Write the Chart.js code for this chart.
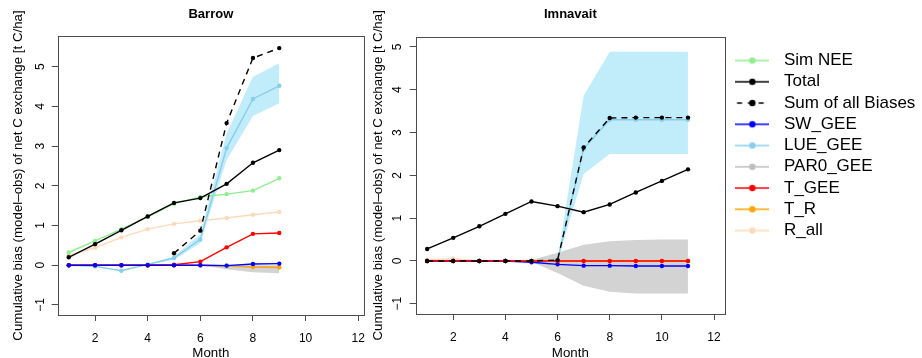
<!DOCTYPE html>
<html><head><meta charset="utf-8">
<script src="https://cdn.jsdelivr.net/npm/chart.js@4.4.0/dist/chart.umd.min.js"></script>
<style>
html,body{margin:0;padding:0;background:#fff;overflow:hidden;width:922px;height:358px;}
canvas{position:absolute;top:0;}
#c1{left:0;z-index:1;}
#c2{left:366px;z-index:2;}
</style></head><body>
<canvas id="c1" width="380" height="358"></canvas>
<canvas id="c2" width="556" height="358"></canvas>
<script>
// ---------- data ----------
const months_barrow = [1,2,3,4,5,6,7,8,9];
const months_imnavait = [1,2,3,4,5,6,7,8,9,10,11];
const x_ticks = [2,4,6,8,10,12];
const y_ticks = [-1,0,1,2,3,4,5];
const legend_labels = ['Sim NEE','Total','Sum of all Biases','SW_GEE','LUE_GEE','PAR0_GEE','T_GEE','T_R','R_all'];
const y_title = 'Cumulative bias (model\u2013obs) of net C exchange [t C/ha]';
const x_title = 'Month';

const barrow_sim_nee    = [0.32,0.61,0.91,1.22,1.55,1.72,1.79,1.88,2.19];
const barrow_total      = [0.20,0.53,0.88,1.23,1.57,1.69,2.05,2.58,2.90];
const barrow_sum_biases = [null,null,null,null,0.30,0.87,3.58,5.22,5.47];
const barrow_sw_gee     = [0,0,0,0,0,0,-0.01,0.03,0.04];
const barrow_lue_gee    = [0,-0.03,-0.14,0.02,0.18,0.65,2.95,4.19,4.52];
const barrow_lue_lo     = [0,-0.04,-0.15,0.01,0.14,0.55,2.65,3.76,4.08];
const barrow_lue_hi     = [0,-0.02,-0.13,0.03,0.22,0.78,3.32,4.75,5.09];
const barrow_par0_gee   = [0,0,0,0,0,0,-0.03,-0.05,-0.06];
const barrow_par0_lo    = [0,0,0,0,0,0,-0.10,-0.18,-0.20];
const barrow_par0_hi    = [0,0,0,0,0,0,0,0,0];
const barrow_t_gee      = [0,0,0,0,0.01,0.09,0.45,0.79,0.81];
const barrow_t_r        = [0,0,0,0,0,0,-0.01,-0.04,-0.05];
const barrow_r_all      = [0.25,0.44,0.70,0.91,1.04,1.12,1.19,1.27,1.34];

const imn_total      = [0.28,0.54,0.81,1.10,1.39,1.28,1.14,1.32,1.60,1.87,2.14];
const imn_sum_biases = [0,0,0,0,0,0.02,2.65,3.34,3.35,3.35,3.35];
const imn_sw_gee     = [0,0,0,0,-0.03,-0.08,-0.11,-0.11,-0.12,-0.12,-0.12];
const imn_lue_gee    = [0,0,0,0,0,0.01,2.62,3.30,3.30,3.30,3.30];
const imn_lue_lo     = [0,0,0,0,0,-0.01,2.03,2.50,2.50,2.50,2.50];
const imn_lue_hi     = [0,0,0,0,0,0.04,3.86,4.89,4.89,4.89,4.89];
const imn_par0_gee   = [0,0,0,0,0,0,0,0,0,0,0];
const imn_par0_lo    = [0,0,0,0,-0.02,-0.28,-0.58,-0.72,-0.76,-0.76,-0.76];
const imn_par0_hi    = [0,0,0,0,0.02,0.19,0.38,0.46,0.49,0.50,0.50];
const imn_t_gee      = [0,0,0,0,0,0,0,0,0,0,0];
const imn_t_r        = [0,0,0,0,0,0,0,0,0,0,0];
const imn_r_all      = [0.03,0.05,0,0,0,0,0,0,0,0,0];

// ---------- styles ----------
const COL = {sim:'#90EE90', total:'#000000', sum:'#000000', sw:'#0000FF', lue:'#87CEEB', par0:'#BEBEBE', tgee:'#FF0000', tr:'#FFA500', rall:'#FFDAB9'};
const legend_colors = [COL.sim, COL.total, COL.sum, COL.sw, COL.lue, COL.par0, COL.tgee, COL.tr, COL.rall];
const LUE_BAND = '#C1ECFA';
const PAR0_BAND = '#D3D3D3';
const AXIS = '#4d4d4d';
Chart.defaults.font.family = "'Liberation Sans', Arial, Helvetica, sans-serif";
Chart.defaults.color = '#000';

function pts(xs, ys){ return xs.map((x,i)=>({x:x, y:ys[i]})); }
function lineDs(label, xs, ys, color, order, dashed){
  return {label:label, data:pts(xs,ys), borderColor:color, backgroundColor:color,
    borderWidth:1.4, pointRadius:2.2, pointBorderWidth:0, pointBackgroundColor:color,
    pointHoverRadius:0, fill:false, tension:0, order:order, borderDash: dashed?[6,5]:[], spanGaps:false};
}
function bandDs(label, xs, lo, hi, color){
  return [
    {label:label+' lo', data:pts(xs,lo), borderWidth:0, borderColor:'rgba(0,0,0,0)', pointRadius:0, fill:false, order:50},
    {label:label+' hi', data:pts(xs,hi), borderWidth:0, borderColor:'rgba(0,0,0,0)', pointRadius:0, fill:'-1', backgroundColor:color, order:50}
  ];
}
function makeSample(color, dashed){
  const c = document.createElement('canvas'); c.width = 34; c.height = 10;
  const g = c.getContext('2d');
  g.strokeStyle = color; g.lineWidth = 1.6;
  if (dashed){ g.setLineDash([5,5.8]); g.lineDashOffset = -1.7; }
  g.beginPath(); g.moveTo(0,5); g.lineTo(34,5); g.stroke();
  g.setLineDash([]);
  g.fillStyle = color; g.beginPath(); g.arc(17,5,3.2,0,Math.PI*2); g.fill();
  return c;
}
const samples = legend_colors.map((c,i)=>makeSample(c, i===2));

const framePlugin = {id:'frame', afterDatasetsDraw(chart){
  const a = chart.chartArea, ctx = chart.ctx;
  ctx.save(); ctx.strokeStyle = AXIS; ctx.lineWidth = 1;
  ctx.strokeRect(Math.round(a.left)+0.5, Math.round(a.top)+0.5, Math.round(a.right-a.left), Math.round(a.bottom-a.top));
  ctx.restore();
}};
const yTitlePlugin = {id:'ytitle', afterDraw(chart){
  const o = chart.options.plugins.ytitle; const a = chart.chartArea, ctx = chart.ctx;
  ctx.save(); ctx.translate(o.x, (a.top+a.bottom)/2); ctx.rotate(-Math.PI/2);
  ctx.font = "13.3px 'Liberation Sans', Arial, sans-serif"; ctx.fillStyle = '#000';
  ctx.textAlign = 'center'; ctx.textBaseline = 'middle';
  ctx.fillText(o.text, 0, 0); ctx.restore();
}};

function makeConfig(p){
  return {
    type:'line',
    data:{datasets:p.datasets},
    plugins:[framePlugin, yTitlePlugin],
    options:{
      responsive:false, animation:false, events:[],
      layout:{padding:{left:0, top:0, right:p.padRight, bottom:0}},
      scales:{
        x:{type:'linear', min:p.xmin, max:p.xmax,
          afterBuildTicks:s=>{ s.ticks = x_ticks.map(v=>({value:v})); },
          afterFit:s=>{ s.height = p.xh; },
          ticks:{autoSkip:false, maxRotation:0, font:{size:12}, color:'#000', padding:10},
          grid:{display:true, drawOnChartArea:false, drawTicks:true, tickLength:6, color:AXIS, lineWidth:1},
          border:{display:false},
          title:{display:true, text:x_title, font:{size:13.3}, color:'#000', padding:{top:0, bottom:-3}}
        },
        y:{type:'linear', min:p.ymin, max:p.ymax,
          afterBuildTicks:s=>{ s.ticks = y_ticks.map(v=>({value:v})); },
          afterFit:s=>{ s.width = p.yw; },
          ticks:{autoSkip:false, minRotation:90, maxRotation:90, crossAlign:'center', padding:p.ytp, font:{size:12}, color:'#000',
            callback:v=> v<0 ? '\u2212'+Math.abs(v) : String(v)},
          grid:{display:true, drawOnChartArea:false, drawTicks:true, tickLength:6, color:AXIS, lineWidth:1},
          border:{display:false}
        }
      },
      plugins:{
        tooltip:{enabled:false},
        title:{display:true, text:p.title, fullSize:false, color:'#000', font:{size:13, weight:'bold'}, padding:{top:6.9, bottom:p.titleBottom}},
        legend: p.legend,
        ytitle:{text:y_title, x:p.ytx}
      }
    }
  };
}

// ---------- Barrow ----------
const dsB = [
  lineDs('Sum of all Biases', months_barrow, barrow_sum_biases, COL.sum, 1, true),
  lineDs('Total', months_barrow, barrow_total, COL.total, 2),
  lineDs('SW_GEE', months_barrow, barrow_sw_gee, COL.sw, 3),
  lineDs('T_GEE', months_barrow, barrow_t_gee, COL.tgee, 4),
  lineDs('T_R', months_barrow, barrow_t_r, COL.tr, 5),
  lineDs('Sim NEE', months_barrow, barrow_sim_nee, COL.sim, 6),
  lineDs('LUE_GEE', months_barrow, barrow_lue_gee, COL.lue, 7),
  lineDs('PAR0_GEE', months_barrow, barrow_par0_gee, COL.par0, 8),
  lineDs('R_all', months_barrow, barrow_r_all, COL.rall, 9),
  ...bandDs('LUE band', months_barrow, barrow_lue_lo, barrow_lue_hi, LUE_BAND),
  ...bandDs('PAR0 band', months_barrow, barrow_par0_lo, barrow_par0_hi, PAR0_BAND)
];
new Chart(document.getElementById('c1'), makeConfig({
  datasets:dsB, title:'Barrow', titleBottom:13.5, padRight:16,
  xmin:0.58, xmax:12.22, ymin:-1.255, ymax:5.775, xh:43, yw:57.7, ytp:4.5, ytx:18.7,
  legend:{display:false}
}));

// ---------- Imnavait ----------
const dsI = [
  lineDs('Sum of all Biases', months_imnavait, imn_sum_biases, COL.sum, 1, true),
  lineDs('Total', months_imnavait, imn_total, COL.total, 2),
  lineDs('T_GEE', months_imnavait, imn_t_gee, COL.tgee, 3),
  lineDs('SW_GEE', months_imnavait, imn_sw_gee, COL.sw, 4),
  lineDs('T_R', months_imnavait, imn_t_r, COL.tr, 5),
  lineDs('LUE_GEE', months_imnavait, imn_lue_gee, COL.lue, 7),
  lineDs('PAR0_GEE', months_imnavait, imn_par0_gee, COL.par0, 8),
  lineDs('R_all', months_imnavait, imn_r_all, COL.rall, 9),
  ...bandDs('LUE band', months_imnavait, imn_lue_lo, imn_lue_hi, LUE_BAND),
  ...bandDs('PAR0 band', months_imnavait, imn_par0_lo, imn_par0_hi, PAR0_BAND)
];
new Chart(document.getElementById('c2'), makeConfig({
  datasets:dsI, title:'Imnavait', titleBottom:14.2, padRight:0,
  xmin:0.56, xmax:12.42, ymin:-1.24, ymax:5.24, xh:44, yw:49.7, ytp:5.35, ytx:12.7,
  legend:{display:true, position:'right', align:'start', fullSize:false, maxWidth:197,
    title:{display:true, text:'', font:{size:8, lineHeight:1}, padding:{top:3.1, bottom:0}},
    labels:{usePointStyle:true, pointStyleWidth:46.25, boxHeight:17, padding:4.25, color:'#000',
      font:{size:17},
      generateLabels:()=>legend_labels.map((t,i)=>({text:t, pointStyle:samples[i], fillStyle:legend_colors[i],
        strokeStyle:legend_colors[i], lineWidth:0, hidden:false, datasetIndex:0, fontColor:'#000'}))}
  }
}));
</script>
</body></html>
